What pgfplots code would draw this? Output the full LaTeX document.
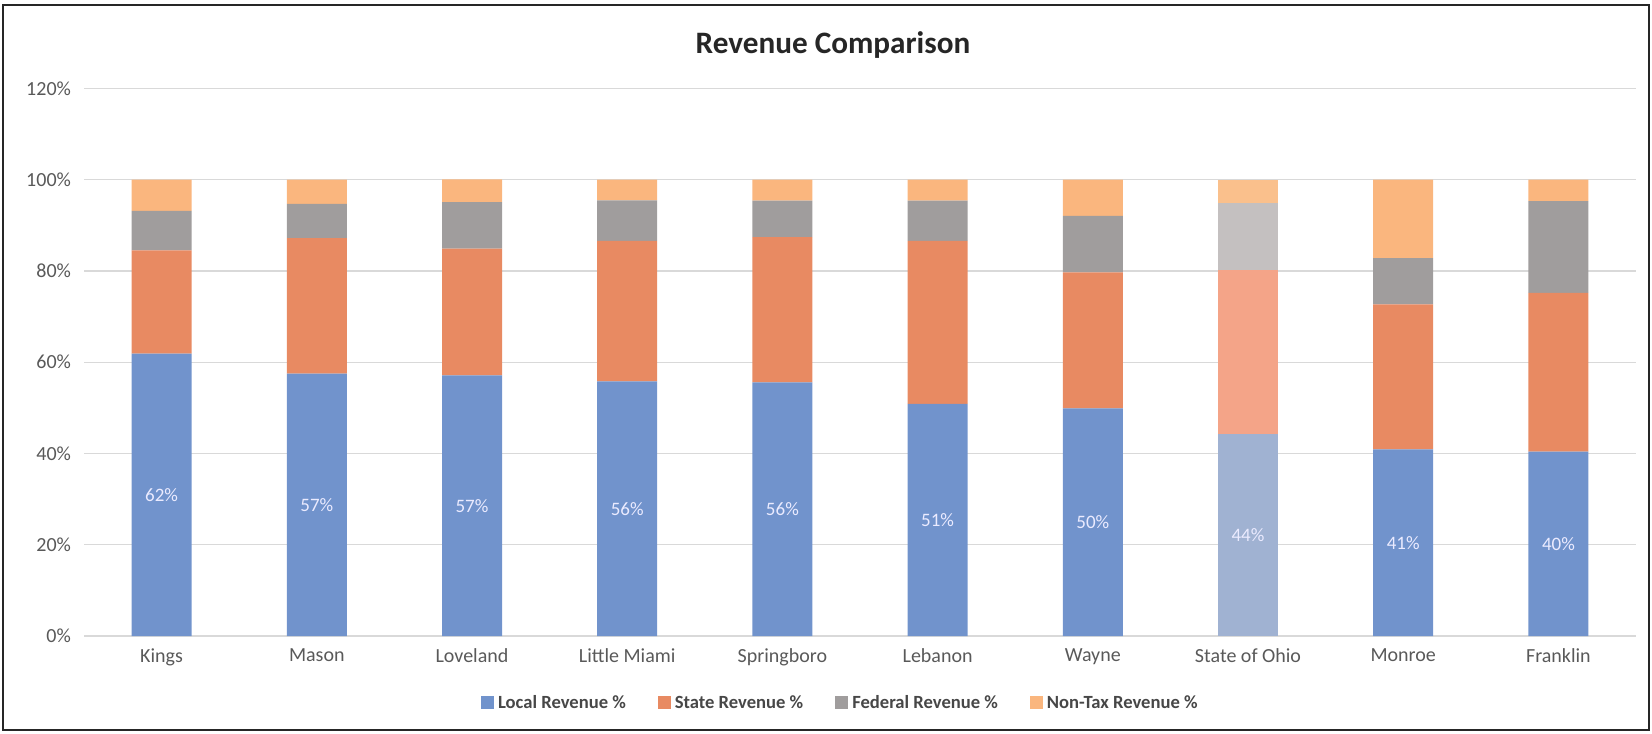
\documentclass[border=0pt]{standalone}
\usepackage{fontspec}
\setmainfont{Carlito}
\usepackage{pgfplots}
\pgfplotsset{compat=1.18}
\definecolor{cLocal}{HTML}{7193CC}
\definecolor{cState}{HTML}{E88A62}
\definecolor{cFed}{HTML}{A09D9D}
\definecolor{cNon}{HTML}{FAB67E}
\definecolor{oLocal}{HTML}{A0B2D2}
\definecolor{oState}{HTML}{F4A488}
\definecolor{oFed}{HTML}{C4C0C0}
\definecolor{oNon}{HTML}{FAC08C}
\definecolor{tickgray}{HTML}{595959}
\definecolor{gridgray}{HTML}{D9D9D9}
\begin{document}
\begin{tikzpicture}
\useasboundingbox (0pt,0pt) rectangle (826pt,366.5pt);
\draw[line width=1.2pt, black!85] (1.5pt,1.5pt) rectangle (824.5pt,364pt);
\node[font=\bfseries\fontsize{15.6}{18}\selectfont, text=black!85] at (416.5pt,344pt) {Revenue Comparison};
\begin{axis}[
  at={(42pt,48.5pt)}, anchor=south west,
  scale only axis, width=776pt, height=273.75pt,
  ybar stacked, bar width=30pt,
  xmin=-0.5, xmax=9.5, ymin=0, ymax=120,
  xtick={0,...,9},
  xticklabels={Kings, Mason, Loveland, Little Miami, Springboro, Lebanon, Wayne, State of Ohio, Monroe, Franklin},
  ytick={0,20,...,120},
  yticklabels={0\%,20\%,40\%,60\%,80\%,100\%,120\%},
  axis line style={draw=none},
  tick style={draw=none},
  ymajorgrids, grid style={gridgray, line width=0.6pt},
  ticklabel style={font=\fontsize{10}{12}\selectfont, text=tickgray},
  xticklabel style={yshift=-3pt},
  yticklabel style={xshift=-3pt},
  legend columns=4,
  legend cell align=left,
  legend style={at={(0.488,-0.123)}, anchor=center, draw=none,
    font=\bfseries\fontsize{9.3}{11}\selectfont, text=black!72,
    /tikz/every even column/.append style={column sep=14pt}},
  legend image code/.code={\fill[#1] (0pt,-3pt) rectangle (6.5pt,3.5pt);},
]
\addplot[fill=cLocal, draw=none] coordinates {(0,61.9) (1,57.5) (2,57.1) (3,55.8) (4,55.6) (5,50.9) (6,49.9) (7,0) (8,40.9) (9,40.4)};
\addlegendentry{Local Revenue \%}
\addplot[fill=oLocal, draw=none, forget plot] coordinates {(0,0) (1,0) (2,0) (3,0) (4,0) (5,0) (6,0) (7,44.2) (8,0) (9,0)};
\addplot[fill=cState, draw=none] coordinates {(0,22.6) (1,29.7) (2,27.8) (3,30.8) (4,31.8) (5,35.7) (6,29.8) (7,0) (8,31.8) (9,34.8)};
\addlegendentry{State Revenue \%}
\addplot[fill=oState, draw=none, forget plot] coordinates {(0,0) (1,0) (2,0) (3,0) (4,0) (5,0) (6,0) (7,36.1) (8,0) (9,0)};
\addplot[fill=cFed, draw=none] coordinates {(0,8.7) (1,7.5) (2,10.2) (3,8.9) (4,8.0) (5,8.8) (6,12.4) (7,0) (8,10.1) (9,20.1)};
\addlegendentry{Federal Revenue \%}
\addplot[fill=oFed, draw=none, forget plot] coordinates {(0,0) (1,0) (2,0) (3,0) (4,0) (5,0) (6,0) (7,14.6) (8,0) (9,0)};
\addplot[fill=cNon, draw=none] coordinates {(0,6.8) (1,5.3) (2,5.0) (3,4.5) (4,4.6) (5,4.6) (6,7.9) (7,0) (8,17.2) (9,4.7)};
\addlegendentry{Non-Tax Revenue \%}
\addplot[fill=oNon, draw=none, forget plot] coordinates {(0,0) (1,0) (2,0) (3,0) (4,0) (5,0) (6,0) (7,5.1) (8,0) (9,0)};
\end{axis}
\begin{axis}[
  at={(42pt,48.5pt)}, anchor=south west,
  scale only axis, width=776pt, height=273.75pt,
  xmin=-0.5, xmax=9.5, ymin=0, ymax=120,
  hide axis,
]
\addplot[draw=none, mark=none, nodes near coords, point meta=explicit symbolic,
  every node near coord/.style={anchor=center, text=white!92!blue, font=\fontsize{9.5}{11}\selectfont}]
  coordinates {(0,30.95)[62\%] (1,28.75)[57\%] (2,28.55)[57\%] (3,27.9)[56\%] (4,27.8)[56\%] (5,25.45)[51\%] (6,24.95)[50\%] (7,22.1)[44\%] (8,20.45)[41\%] (9,20.2)[40\%]};
\end{axis}
\end{tikzpicture}
\end{document}
